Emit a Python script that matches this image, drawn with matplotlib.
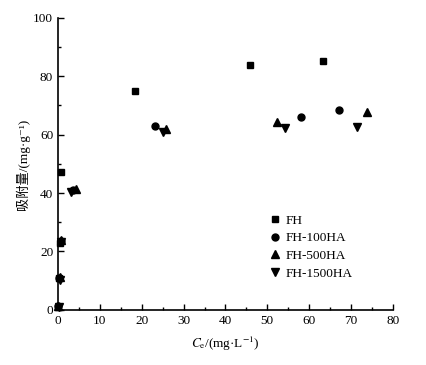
import matplotlib
matplotlib.use("Agg")
import matplotlib.pyplot as plt
from matplotlib.ticker import MultipleLocator

plt.rcParams['font.family'] = ['Liberation Serif', 'Noto Sans CJK SC', 'DejaVu Serif']
plt.rcParams['mathtext.fontset'] = 'stix'

# Ce (mg/L) and adsorbed amount (mg/g)
fh_x = [0.1, 0.3, 0.5, 0.6, 18.3, 45.8, 63.2]
fh_y = [1.0, 10.8, 23.0, 47.2, 75.0, 84.0, 85.4]

fh100_x = [0.1, 0.3, 0.6, 3.5, 23.2, 58.1, 67.1]
fh100_y = [1.2, 11.0, 23.6, 41.0, 63.0, 66.2, 68.6]

fh500_x = [0.1, 0.4, 0.7, 4.2, 25.9, 52.4, 73.8]
fh500_y = [1.4, 11.2, 24.0, 41.5, 61.8, 64.5, 67.6]

fh1500_x = [0.2, 0.5, 0.8, 3.0, 25.1, 54.3, 71.4]
fh1500_y = [1.0, 10.4, 23.2, 40.4, 61.0, 62.2, 62.8]

fig = plt.figure(figsize=(4.27, 3.65), dpi=100)
ax = fig.add_axes([0.136, 0.151, 0.784, 0.80])

ms = 4.5
ax.plot(fh_x, fh_y, 's', color='black', ms=ms, label='FH', clip_on=False)
ax.plot(fh100_x, fh100_y, 'o', color='black', ms=ms + 0.5, label='FH-100HA', clip_on=False)
ax.plot(fh500_x, fh500_y, '^', color='black', ms=ms + 1, label='FH-500HA', clip_on=False)
ax.plot(fh1500_x, fh1500_y, 'v', color='black', ms=ms + 1, label='FH-1500HA', clip_on=False)

ax.set_xlim(0, 80)
ax.set_ylim(0, 100)
ax.xaxis.set_major_locator(MultipleLocator(10))
ax.xaxis.set_minor_locator(MultipleLocator(5))
ax.yaxis.set_major_locator(MultipleLocator(20))
ax.yaxis.set_minor_locator(MultipleLocator(10))
ax.tick_params(which='both', direction='in', labelsize=9.5, width=1)
ax.tick_params(which='major', length=4)
ax.tick_params(which='minor', length=2.5)
ax.spines['top'].set_visible(False)
ax.spines['right'].set_visible(False)
for s in ('left', 'bottom'):
    ax.spines[s].set_linewidth(1.2)

ax.set_xlabel(r'$C_\mathrm{e}$/(mg·L$^{-1}$)', fontsize=9.5, labelpad=6)
ax.set_ylabel('吸附量/(mg·g⁻¹)', fontsize=9.5, labelpad=2)

ax.legend(loc='upper left', bbox_to_anchor=(0.61, 0.35), frameon=False,
          fontsize=9.5, handletextpad=0.3, labelspacing=0.42, handlelength=1,
          borderpad=0)

fig.savefig('out.png', dpi=100)
